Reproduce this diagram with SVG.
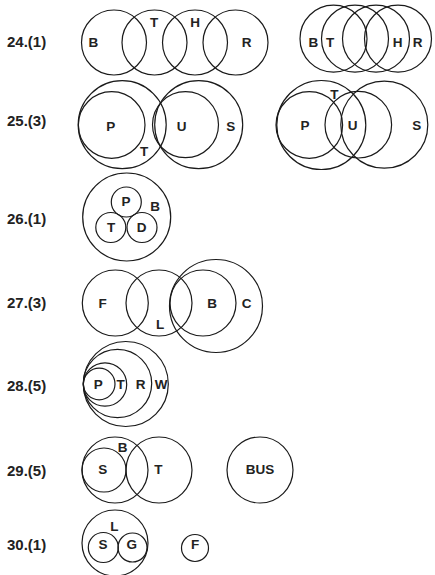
<svg xmlns="http://www.w3.org/2000/svg" width="435" height="575" viewBox="0 0 435 575">
<style>
.c{fill:none;stroke:#1a1a1a;stroke-width:1.2}
.q{font-family:"Liberation Sans",Arial,sans-serif;font-weight:bold;font-size:15px;fill:#222}
.l{font-family:"Liberation Sans",Arial,sans-serif;font-weight:bold;font-size:13.5px;fill:#222;text-anchor:middle}
</style>
<rect width="435" height="575" fill="#fff"/>
<g id="q24">
<text class="q" x="7" y="47">24.(1)</text>
<g id="q24-left">
<circle class="c" cx="114" cy="42.5" r="32.5"/>
<circle class="c" cx="154.5" cy="42.5" r="32.5"/>
<circle class="c" cx="195" cy="42.5" r="32.5"/>
<circle class="c" cx="235.5" cy="42.5" r="32.5"/>
<text class="l" x="93.3" y="47">B</text>
<text class="l" x="154" y="26.7">T</text>
<text class="l" x="195" y="26.7">H</text>
<text class="l" x="246.7" y="47">R</text>
</g>
<g id="q24-right">
<circle class="c" cx="333.5" cy="38.7" r="33.5"/>
<circle class="c" cx="355" cy="38.7" r="33.5"/>
<circle class="c" cx="376" cy="38.7" r="33.5"/>
<circle class="c" cx="398" cy="38.7" r="33.5"/>
<text class="l" x="313.3" y="46.7">B</text>
<text class="l" x="330" y="46.7">T</text>
<text class="l" x="397.7" y="46.7">H</text>
<text class="l" x="417.7" y="46.7">R</text>
</g>
</g>
<g id="q25">
<text class="q" x="7" y="126">25.(3)</text>
<g id="q25-left">
<circle class="c" cx="122.2" cy="124.7" r="44"/>
<circle class="c" cx="111.7" cy="125" r="33.3"/>
<circle class="c" cx="198.7" cy="124.7" r="44"/>
<circle class="c" cx="185.5" cy="124.7" r="33"/>
<text class="l" x="110.7" y="130.5">P</text>
<text class="l" x="144" y="156.3">T</text>
<text class="l" x="181.7" y="130.5">U</text>
<text class="l" x="230.7" y="130.5">S</text>
</g>
<g id="q25-right">
<circle class="c" cx="321.3" cy="125" r="44.5"/>
<circle class="c" cx="309.3" cy="125" r="33.3"/>
<circle class="c" cx="384.3" cy="124.7" r="43.5"/>
<circle class="c" cx="358.3" cy="124.7" r="33.3"/>
<text class="l" x="334.3" y="98.7">T</text>
<text class="l" x="305" y="129.7">P</text>
<text class="l" x="352.7" y="129.7">U</text>
<text class="l" x="416.7" y="129.7">S</text>
</g>
</g>
<g id="q26">
<text class="q" x="7" y="224">26.(1)</text>
<circle class="c" cx="126.7" cy="217" r="44"/>
<circle class="c" cx="126.3" cy="202" r="15"/>
<circle class="c" cx="110.8" cy="227.5" r="15"/>
<circle class="c" cx="142" cy="227.5" r="15"/>
<text class="l" x="126" y="205.7">P</text>
<text class="l" x="155" y="210.7">B</text>
<text class="l" x="111" y="232.3">T</text>
<text class="l" x="141.7" y="232.3">D</text>
</g>
<g id="q27">
<text class="q" x="7" y="308">27.(3)</text>
<circle class="c" cx="115.3" cy="303" r="33"/>
<circle class="c" cx="159" cy="303" r="33"/>
<circle class="c" cx="203" cy="303" r="33"/>
<circle class="c" cx="216" cy="306" r="46.5"/>
<text class="l" x="102.7" y="307.7">F</text>
<text class="l" x="160" y="329.3">L</text>
<text class="l" x="212" y="307.7">B</text>
<text class="l" x="246.7" y="307.7">C</text>
</g>
<g id="q28">
<text class="q" x="7" y="390.5">28.(5)</text>
<circle class="c" cx="125.8" cy="384" r="42.5"/>
<circle class="c" cx="117.5" cy="383.5" r="34.2"/>
<circle class="c" cx="105" cy="384.5" r="21.7"/>
<circle class="c" cx="99.2" cy="384" r="15.8"/>
<text class="l" x="98.3" y="389.3">P</text>
<text class="l" x="120.7" y="389.3">T</text>
<text class="l" x="140.7" y="389.3">R</text>
<text class="l" x="161" y="389.3">W</text>
</g>
<g id="q29">
<text class="q" x="7" y="475.5">29.(5)</text>
<circle class="c" cx="115" cy="470" r="33"/>
<circle class="c" cx="159" cy="470" r="33"/>
<circle class="c" cx="104" cy="470" r="22"/>
<circle class="c" cx="260" cy="470" r="33"/>
<text class="l" x="122.7" y="452.3">B</text>
<text class="l" x="102.7" y="474.3">S</text>
<text class="l" x="158.3" y="474.3">T</text>
<text class="l" x="260" y="474.3">BUS</text>
</g>
<g id="q30">
<text class="q" x="7" y="550">30.(1)</text>
<circle class="c" cx="115" cy="543" r="33"/>
<circle class="c" cx="103.3" cy="547.5" r="15"/>
<circle class="c" cx="132.5" cy="547.5" r="14.5"/>
<circle class="c" cx="195" cy="548" r="13.5"/>
<text class="l" x="114.3" y="531">L</text>
<text class="l" x="103" y="549.3">S</text>
<text class="l" x="131.7" y="549.3">G</text>
<text class="l" x="195" y="549.3">F</text>
</g>
</svg>
